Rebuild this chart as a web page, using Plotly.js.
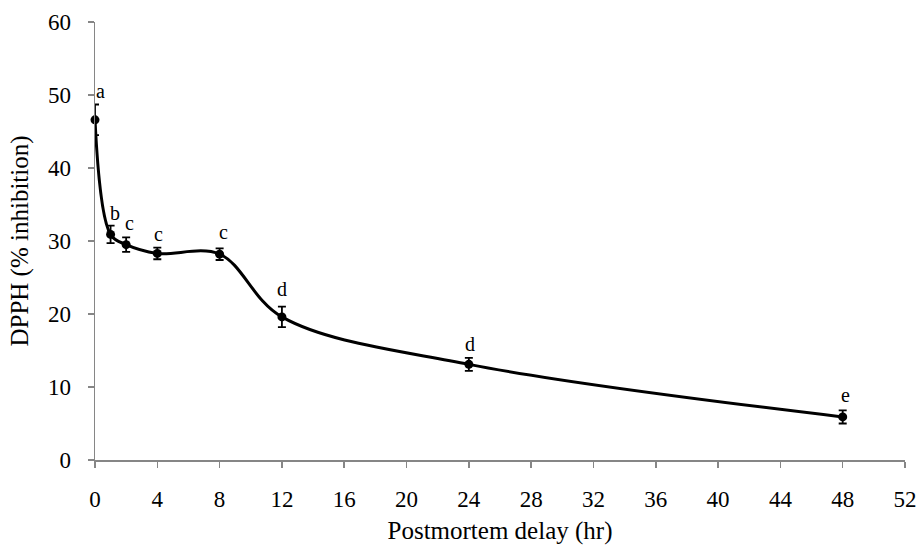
<!DOCTYPE html>
<html>
<head>
<meta charset="utf-8">
<script src="https://cdn.plot.ly/plotly-3.0.1.min.js"></script>
<style>html,body{margin:0;padding:0;background:#fff;}#chart{width:920px;height:545px;}</style>
</head>
<body>
<div id="chart"></div>
<script>
const hours = [0, 1, 2, 4, 8, 12, 24, 48];
const dpph = [46.6, 30.9, 29.5, 28.3, 28.2, 19.6, 13.1, 5.9];
const sem = [2.1, 1.2, 1.0, 0.8, 0.8, 1.4, 0.9, 0.9];
const letters = ['a', 'b', 'c', 'c', 'c', 'd', 'd', 'e'];
const xTicks = [0, 4, 8, 12, 16, 20, 24, 28, 32, 36, 40, 44, 48, 52];
const yTicks = [0, 10, 20, 30, 40, 50, 60];

const font = 'Liberation Serif, Times New Roman, serif';
const letterXShift = [5, 4.5, 3.5, 1.5, 4, 0, 1, 3];
const letterYShift = [0, 0, 1, 1, 3, 5, 1, 2];

const trace = {
  x: hours, y: dpph, type: 'scatter', mode: 'lines+markers',
  line: {color: '#000', width: 3, shape: 'spline', smoothing: 1},
  marker: {color: '#000', size: 9},
  error_y: {type: 'data', array: sem, visible: true, color: '#000', thickness: 1.8, width: 4},
  cliponaxis: false, showlegend: false, hoverinfo: 'skip'
};

const annotations = hours.map((h, i) => ({
  x: h, y: dpph[i] + sem[i], xref: 'x', yref: 'y', text: letters[i],
  showarrow: false, yanchor: 'bottom', xanchor: 'center',
  xshift: letterXShift[i], yshift: letterYShift[i],
  font: {family: font, size: 20, color: '#000'}
}));

const layout = {
  width: 920, height: 545,
  margin: {l: 95, r: 15, t: 22, b: 85},
  paper_bgcolor: '#fff', plot_bgcolor: '#fff',
  font: {family: font, color: '#000'},
  xaxis: {
    range: [0, 52], tickvals: xTicks, ticktext: xTicks.map(String),
    showgrid: false, zeroline: false, showline: true, linecolor: '#868686', linewidth: 1.5,
    ticks: 'outside', ticklen: 6, tickcolor: '#868686', tickwidth: 1.5,
    ticklabelstandoff: 12,
    tickfont: {family: font, size: 23, color: '#000'},
    title: {text: 'Postmortem delay (hr)', font: {family: font, size: 25, color: '#000'}, standoff: 12}
  },
  yaxis: {
    range: [0, 60], tickvals: yTicks, ticktext: yTicks.map(String),
    showgrid: false, zeroline: false, showline: true, linecolor: '#868686', linewidth: 1.5,
    ticks: 'outside', ticklen: 6, tickcolor: '#868686', tickwidth: 1.5,
    ticklabelstandoff: 12,
    tickfont: {family: font, size: 23, color: '#000'},
    title: {text: 'DPPH (% inhibition)', font: {family: font, size: 25, color: '#000'}, standoff: 12}
  },
  annotations: annotations
};

Plotly.newPlot('chart', [trace], layout, {staticPlot: true, displayModeBar: false});
</script>
</body>
</html>
